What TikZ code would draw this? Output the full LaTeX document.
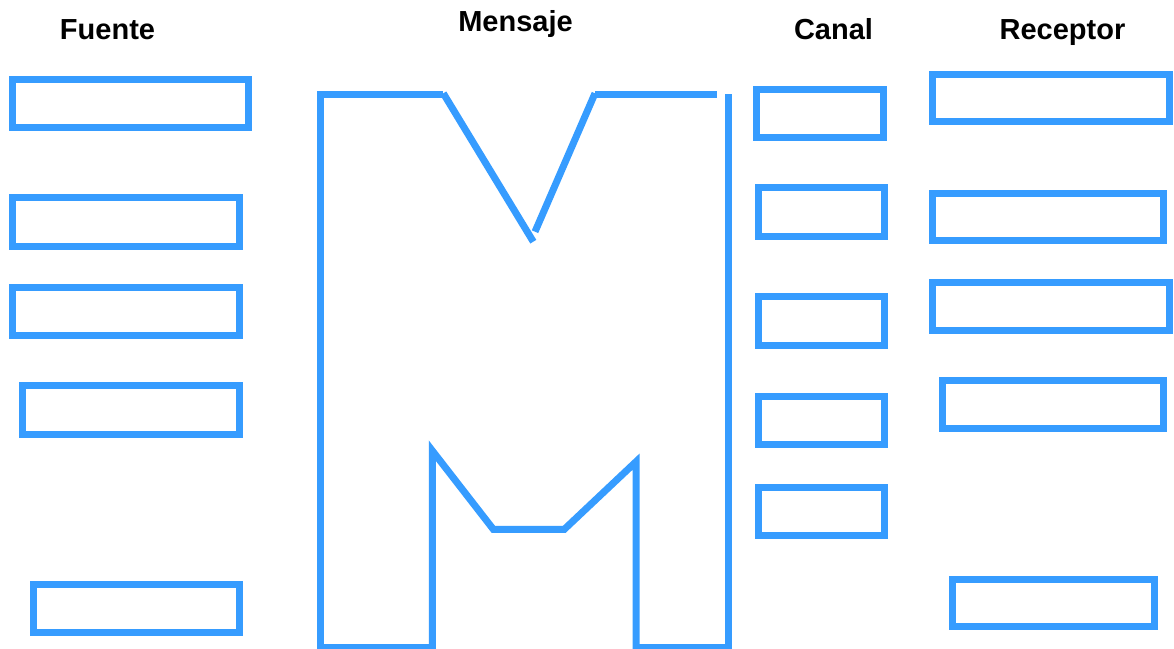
\documentclass[tikz,border=0pt]{standalone}
\usepackage{fontspec}
\setmainfont{Liberation Sans}
\definecolor{mblue}{RGB}{54,156,255}
\begin{document}
\begin{tikzpicture}[x=1pt,y=-1pt,
  bx/.style={draw=mblue,line width=7pt,inner sep=0pt,rectangle},
  ttl/.style={anchor=base,inner sep=0pt,font=\fontsize{29}{34}\selectfont\bfseries,text=black},
  mline/.style={draw=mblue,line width=7pt}]
\useasboundingbox[fill=white] (0,0) rectangle (1174,648);
% titles
\node[ttl] (tF) at (107.5,39.3) {Fuente};
\node[ttl] (tM) at (515.5,31.7) {Mensaje};
\node[ttl] (tC) at (833.5,39.3) {Canal};
\node[ttl] (tR) at (1062.5,39.3) {Receptor};
% Fuente boxes
\node[bx,minimum width=235.5pt,minimum height=48pt] (f1) at (130.25,103.5) {};
\node[bx,minimum width=227pt,minimum height=49pt] (f2) at (125.5,222) {};
\node[bx,minimum width=227pt,minimum height=48.5pt] (f3) at (125.5,311.25) {};
\node[bx,minimum width=217pt,minimum height=49pt] (f4) at (131,410) {};
\node[bx,minimum width=206.5pt,minimum height=48pt] (f5) at (136.25,608) {};
% Canal boxes
\node[bx,minimum width=127pt,minimum height=48pt] (c1) at (819.5,113) {};
\node[bx,minimum width=125.5pt,minimum height=49pt] (c2) at (821.25,212) {};
\node[bx,minimum width=125.5pt,minimum height=48.7pt] (c3) at (821.25,321.2) {};
\node[bx,minimum width=125.5pt,minimum height=48pt] (c4) at (821.25,420) {};
\node[bx,minimum width=125.5pt,minimum height=48.5pt] (c5) at (821.25,511.25) {};
% Receptor boxes
\node[bx,minimum width=237pt,minimum height=47.5pt] (r1) at (1050.5,97.75) {};
\node[bx,minimum width=231pt,minimum height=47pt] (r2) at (1047.5,216.5) {};
\node[bx,minimum width=237pt,minimum height=48pt] (r3) at (1050.5,306) {};
\node[bx,minimum width=221pt,minimum height=47.5pt] (r4) at (1052.5,404.25) {};
\node[bx,minimum width=202pt,minimum height=47pt] (r5) at (1053,602.5) {};
% Big M shape
\draw[mline] (320.8,652) -- (320.8,94) -- (442.7,94);
\draw[mline] (443.3,93.3) -- (533.3,241.7);
\draw[mline] (535,231.7) -- (595,93.3);
\draw[mline] (595,94) -- (717,94);
\draw[mline] (728.3,94) -- (728.3,652);
\draw[mline] (320.8,647.5) -- (432.3,647.5);
\draw[mline] (432.3,652) -- (432.3,450.7) -- (493.3,529.3) -- (564.3,529.3) -- (636,461.7) -- (636,652);
\draw[mline] (636,647.5) -- (728.3,647.5);
\end{tikzpicture}
\end{document}
